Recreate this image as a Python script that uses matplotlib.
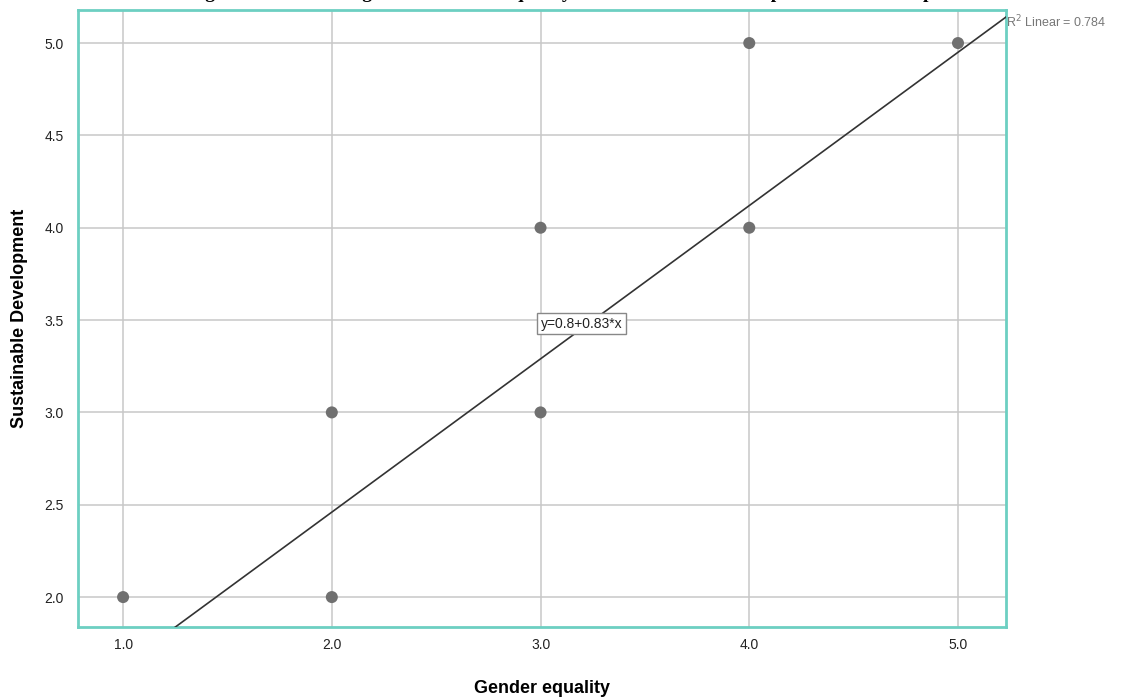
import matplotlib
matplotlib.use("Agg")
import matplotlib.pyplot as plt
import numpy as np

# Data
gender_equality = [1, 2, 2, 3, 3, 4, 4, 5]
sustainable_dev = [2, 3, 2, 4, 3, 5, 4, 5]
intercept = 0.8
slope = 0.83
r2 = 0.784
x_ticks = [1.0, 2.0, 3.0, 4.0, 5.0]
y_ticks = [2.0, 2.5, 3.0, 3.5, 4.0, 4.5, 5.0]

plt.rcParams['font.family'] = ['Liberation Sans', 'DejaVu Sans']

fig = plt.figure(figsize=(11.21, 6.98), dpi=100)
ax = fig.add_axes([78/1121, 1 - 627/698, (1006-78)/1121, (627-10)/698])

xlim = (0.784, 5.23)
ylim = (1.838, 5.179)
ax.set_xlim(*xlim)
ax.set_ylim(*ylim)

ax.set_xticks(x_ticks)
ax.set_yticks(y_ticks)
ax.set_xticklabels([f"{v:.1f}" for v in x_ticks])
ax.set_yticklabels([f"{v:.1f}" for v in y_ticks])
ax.tick_params(length=0, labelsize=10, colors='#222222')
ax.tick_params(axis='x', pad=8)
ax.tick_params(axis='y', pad=10)
ax.grid(True, color='#c8c8c8', linewidth=1.1)
ax.set_axisbelow(True)

for s in ax.spines.values():
    s.set_color('#6dcfc2')
    s.set_linewidth(2)

ax.scatter(gender_equality, sustainable_dev, s=75, color='#707070', zorder=3, edgecolors='none')

xs = np.array(xlim)
ax.plot(xs, intercept + slope * xs, color='#333333', linewidth=1.2, zorder=4, clip_on=True)

ax.text(3.0, 3.48, f"y={intercept}+{slope}*x", fontsize=10, color='#222222', ha='left', va='center',
        zorder=5, bbox=dict(boxstyle='square,pad=0.25', facecolor='white', edgecolor='#888888', linewidth=1))

fig.text(1006/1121, 1 - 22/698, "R$^2$ Linear = " + f"{r2}", fontsize=9, color='#777777', ha='left', va='center')

ax.set_xlabel("Gender equality", fontsize=13, fontweight='bold', labelpad=20)
ax.set_ylabel("Sustainable Development", fontsize=13, fontweight='bold', labelpad=12)

fig.text(0.5, 1 + 1.5/698, "Figure 1: Scatter Diagram of Gender Equality and Sustainable Development Relationship",
         fontsize=14, fontweight='bold', family=['Liberation Serif', 'DejaVu Serif'], ha='center', va='baseline')

fig.savefig("out.png", dpi=100)
